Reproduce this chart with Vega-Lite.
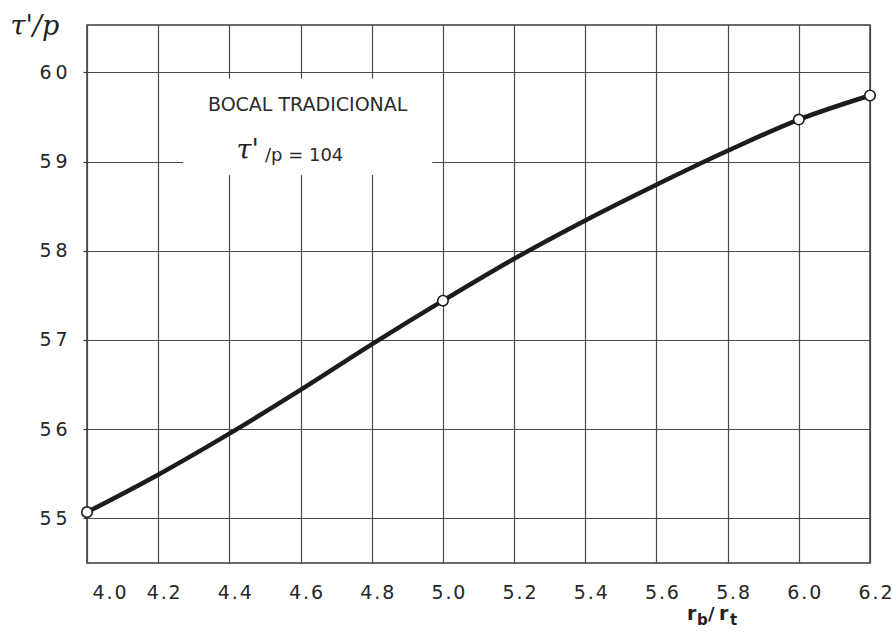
{
  "$schema": "https://vega.github.io/schema/vega-lite/v6.json",
  "width": 783,
  "height": 538,
  "autosize": "none",
  "padding": {"left": 87, "top": 25, "right": 22, "bottom": 72},
  "background": "white",
  "config": {
    "view": {"stroke": "#3a3a3a", "strokeWidth": 1.5},
    "font": "DejaVu Sans"
  },
  "datasets": {
    "curve": [
      {"ratio": 4.0, "tau": 55.07},
      {"ratio": 4.2, "tau": 55.49},
      {"ratio": 4.4, "tau": 55.95},
      {"ratio": 4.6, "tau": 56.44},
      {"ratio": 4.8, "tau": 56.95},
      {"ratio": 5.0, "tau": 57.44},
      {"ratio": 5.2, "tau": 57.91},
      {"ratio": 5.4, "tau": 58.34},
      {"ratio": 5.6, "tau": 58.74},
      {"ratio": 5.8, "tau": 59.12},
      {"ratio": 6.0, "tau": 59.47},
      {"ratio": 6.2, "tau": 59.74}
    ],
    "measured": [
      {"ratio": 4.0, "tau": 55.07},
      {"ratio": 5.0, "tau": 57.44},
      {"ratio": 6.0, "tau": 59.47},
      {"ratio": 6.2, "tau": 59.74}
    ]
  },
  "layer": [
    {
      "data": {"name": "curve"},
      "mark": {"type": "line", "interpolate": "monotone", "color": "#1c1c1c", "strokeWidth": 4.5, "strokeCap": "round"},
      "encoding": {
        "x": {
          "field": "ratio", "type": "quantitative",
          "scale": {"domain": [4.0, 6.2], "nice": false, "zero": false},
          "axis": {
            "title": null,
            "values": [4.0, 4.2, 4.4, 4.6, 4.8, 5.0, 5.2, 5.4, 5.6, 5.8, 6.0, 6.2],
            "format": ".1f",
            "labelExpr": "join(split(datum.label, ''), '\u200a')",
            "labelFlush": false,
            "labelAlign": {"expr": "datum.value == 4 ? 'left' : 'center'"},
            "labelOffset": 5,
            "labelFontSize": 19,
            "labelColor": "#262626",
            "labelPadding": 20,
            "domain": false,
            "ticks": false,
            "grid": true,
            "gridColor": "#4a4a4a",
            "gridWidth": 1.2,
            "zindex": 0
          }
        },
        "y": {
          "field": "tau", "type": "quantitative",
          "scale": {"domain": [54.5, 60.53], "nice": false, "zero": false},
          "axis": {
            "title": "τ'/p",
            "titleAngle": 0,
            "titleAlign": "left",
            "titleBaseline": "alphabetic",
            "titleX": -77,
            "titleY": 9,
            "titleFont": "DejaVu Serif",
            "titleFontStyle": "italic",
            "titleFontSize": 27,
            "titleFontWeight": "normal",
            "titleColor": "#222222",
            "values": [55, 56, 57, 58, 59, 60],
            "format": "d",
            "labelExpr": "join(split(datum.label, ''), '\u2009')",
            "labelAlign": "right",
            "labelFontSize": 19,
            "labelColor": "#262626",
            "labelPadding": 16,
            "domain": false,
            "ticks": true,
            "tickSize": 4,
            "tickColor": "#3a3a3a",
            "tickWidth": 1.2,
            "grid": true,
            "gridColor": "#4a4a4a",
            "gridWidth": 1.2,
            "zindex": 0
          }
        }
      }
    },
    {
      "data": {"values": [{}]},
      "mark": {"type": "rect", "fill": "white", "stroke": null},
      "encoding": {
        "x": {"datum": 4.27},
        "x2": {"datum": 4.97},
        "y": {"datum": 58.85},
        "y2": {"datum": 59.93}
      }
    },
    {
      "data": {"name": "measured"},
      "mark": {"type": "point", "shape": "circle", "filled": true, "fill": "white", "stroke": "#1c1c1c", "strokeWidth": 1.6, "size": 110, "opacity": 1},
      "encoding": {
        "x": {"field": "ratio", "type": "quantitative"},
        "y": {"field": "tau", "type": "quantitative"}
      }
    },
    {
      "data": {"values": [{}]},
      "mark": {"type": "text", "text": "BOCAL TRADICIONAL", "fontSize": 19, "color": "#2a2a2a", "align": "center", "baseline": "middle"},
      "encoding": {"x": {"datum": 4.62}, "y": {"datum": 59.63}}
    },
    {
      "data": {"values": [{}]},
      "mark": {"type": "text", "text": "τ'", "font": "DejaVu Serif", "fontStyle": "italic", "fontSize": 27, "color": "#222222", "align": "left", "baseline": "alphabetic"},
      "encoding": {"x": {"datum": 4.42}, "y": {"datum": 59.03}}
    },
    {
      "data": {"values": [{}]},
      "mark": {"type": "text", "text": "/p = 104", "fontSize": 18, "color": "#2a2a2a", "align": "left", "baseline": "alphabetic", "dy": 2},
      "encoding": {"x": {"datum": 4.5}, "y": {"datum": 59.03}}
    },
    {
      "data": {"values": [{}]},
      "mark": {"type": "text", "text": "r", "fontSize": 19, "fontWeight": "bold", "color": "#222222", "align": "left", "baseline": "alphabetic", "dx": -5, "dy": 57},
      "encoding": {"x": {"datum": 5.7}, "y": {"datum": 54.5}}
    },
    {
      "data": {"values": [{}]},
      "mark": {"type": "text", "text": "b", "fontSize": 15, "fontWeight": "bold", "color": "#222222", "align": "left", "baseline": "alphabetic", "dx": 5, "dy": 62},
      "encoding": {"x": {"datum": 5.7}, "y": {"datum": 54.5}}
    },
    {
      "data": {"values": [{}]},
      "mark": {"type": "text", "text": "/", "fontSize": 18, "fontWeight": "bold", "color": "#222222", "align": "left", "baseline": "alphabetic", "dx": 16, "dy": 57},
      "encoding": {"x": {"datum": 5.7}, "y": {"datum": 54.5}}
    },
    {
      "data": {"values": [{}]},
      "mark": {"type": "text", "text": "r", "fontSize": 19, "fontWeight": "bold", "color": "#222222", "align": "left", "baseline": "alphabetic", "dx": 27, "dy": 57},
      "encoding": {"x": {"datum": 5.7}, "y": {"datum": 54.5}}
    },
    {
      "data": {"values": [{}]},
      "mark": {"type": "text", "text": "t", "fontSize": 15, "fontWeight": "bold", "color": "#222222", "align": "left", "baseline": "alphabetic", "dx": 38, "dy": 62},
      "encoding": {"x": {"datum": 5.7}, "y": {"datum": 54.5}}
    }
  ]
}
